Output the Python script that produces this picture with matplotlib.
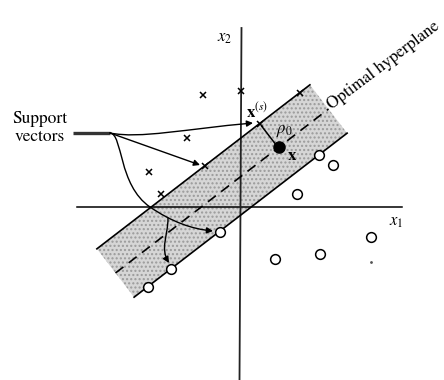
import numpy as np
import matplotlib
matplotlib.use("Agg")
import matplotlib.pyplot as plt
from matplotlib.patches import Polygon, FancyArrowPatch
from matplotlib.path import Path

plt.rcParams["mathtext.fontset"] = "stix"
plt.rcParams["font.family"] = ["STIXGeneral", "DejaVu Serif"]

# --- Diagram data (drawing units: 444 x 380 canvas, y grows downward) ---
# Class "x" patterns
cross_x = [203, 241, 187, 149, 161, 205, 260, 300]
cross_y = [95, 91, 138, 172, 194, 166, 124, 93]
# Class "o" patterns
circle_x = [319, 333, 297, 371, 275, 320, 220, 171, 148]
circle_y = [155, 165, 194, 237, 259, 254, 232, 269, 287]
# Test point x lying on the optimal hyperplane
test_point = (279, 147)
# Support vector x(s) on the upper margin
support_point = (260, 124)
# Optimal hyperplane segment end points and half margin width
hyperplane_start = (115.5, 273.0)
hyperplane_end = (328.5, 109.0)
half_margin = 30.5
# Coordinate axes
x1_axis = [(77, 207), (402, 207)]
x2_axis = [(241.5, 28), (239.5, 380)]
# Stray speck in the lower right
speck = (371, 262)

fig = plt.figure(figsize=(4.44, 3.80), dpi=100)
ax = fig.add_axes([0, 0, 1, 1])
ax.set_xlim(0, 444)
ax.set_ylim(380, 0)
ax.axis("off")

# Margin band
p0 = np.array(hyperplane_start)
p1 = np.array(hyperplane_end)
d = (p1 - p0) / np.linalg.norm(p1 - p0)
n = np.array([-d[1], d[0]])          # points toward the "o" side
if n[1] < 0:
    n = -n
up0, up1 = p0 - half_margin * n, p1 - half_margin * n
lo0, lo1 = p0 + half_margin * n, p1 + half_margin * n
band = [up0, up1, lo1, lo0]
ax.add_patch(Polygon(band, closed=True, facecolor="#d6d6d6", edgecolor="none", zorder=1))
ax.add_patch(Polygon(band, closed=True, facecolor="none", edgecolor="#9a9a9a",
                     hatch="....", linewidth=0, zorder=1.1))
ax.plot([up0[0], up1[0]], [up0[1], up1[1]], color="black", lw=1.2, zorder=3)
ax.plot([lo0[0], lo1[0]], [lo0[1], lo1[1]], color="black", lw=1.2, zorder=3)
ax.plot([p0[0], p1[0]], [p0[1], p1[1]], color="black", lw=1.2,
        dashes=(6, 4), zorder=3)

# Axes lines
ax.plot([x1_axis[0][0], x1_axis[1][0]], [x1_axis[0][1], x1_axis[1][1]],
        color="black", lw=1.1, zorder=2)
ax.plot([x2_axis[0][0], x2_axis[1][0]], [x2_axis[0][1], x2_axis[1][1]],
        color="#222222", lw=1.3, zorder=2)
ax.text(225, 38, r"$x_2$", fontsize=12, ha="center", va="center")
ax.text(396, 222, r"$x_1$", fontsize=12, ha="center", va="center")

# Patterns
ax.plot(cross_x, cross_y, "x", color="black", ms=4.2, mew=1.1, zorder=5)
ax.plot(circle_x, circle_y, "o", mfc="white", mec="black", ms=7, mew=1.1, zorder=5)
ax.plot(*test_point, "o", color="black", ms=8, zorder=5)
ax.plot(*speck, ".", color="#555555", ms=2, zorder=5)

# Distance segment from x(s) to the hyperplane
sp = np.array(support_point, dtype=float)
foot = sp + half_margin * n
ax.plot([sp[0] + 3 * n[0], foot[0]], [sp[1] + 3 * n[1], foot[1]],
        color="black", lw=1.1, zorder=4)

ax.text(257, 112, r"$\mathbf{x}^{(s)}$", fontsize=12, ha="center", va="center")
ax.text(284, 131, r"$\rho_0$", fontsize=12, ha="center", va="center")
ax.text(292, 156, r"$\mathbf{x}$", fontsize=12, ha="center", va="center")

ax.text(332, 110, "Optimal hyperplane", fontsize=12.3, rotation=37,
        rotation_mode="anchor", ha="left", va="baseline")

# "Support vectors" label and its pointers
ax.text(40, 128, "Support\nvectors", fontsize=12.5, ha="center", va="center",
        linespacing=1.1)
ax.plot([73, 110], [133, 133], color="#333333", lw=2.4, solid_capstyle="butt", zorder=4)

C4 = [Path.MOVETO, Path.CURVE4, Path.CURVE4, Path.CURVE4]
pointer_paths = [
    # to x(s)
    Path([(110, 133), (140, 139), (185, 129), (253, 123)], C4),
    # straight pointer to the upper-margin "x"
    Path([(110, 133), (200, 165)], [Path.MOVETO, Path.LINETO]),
    # long arc down to the lower-margin "o"
    Path([(110, 133), (123, 134), (118, 185), (150, 207),
          (172, 222), (192, 229), (213, 231)],
         [Path.MOVETO, Path.CURVE4, Path.CURVE4, Path.CURVE4,
          Path.CURVE4, Path.CURVE4, Path.CURVE4]),
    # branch to the next "o"
    Path([(168, 218), (168, 236), (160, 248), (169, 263)], C4),
]
for pth in pointer_paths:
    ax.add_patch(FancyArrowPatch(path=pth, arrowstyle="-|>", mutation_scale=9,
                                 color="black", lw=1.0, zorder=4))

fig.savefig("out.png", dpi=100)
